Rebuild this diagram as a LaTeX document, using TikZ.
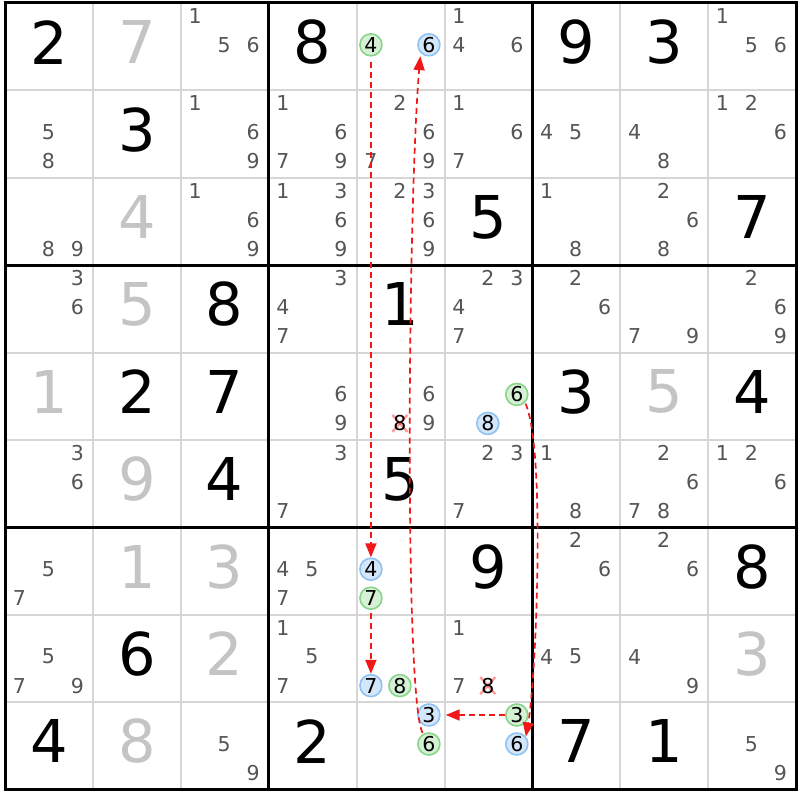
\documentclass[tikz,border=0pt]{standalone}
\usepackage{fontspec}
\setmainfont{DejaVu Sans}
\usetikzlibrary{arrows.meta}
\definecolor{candgray}{HTML}{555555}
\definecolor{solvedgray}{HTML}{C4C4C4}
\definecolor{gridgray}{HTML}{D6D6D6}
\definecolor{gborder}{HTML}{88D488}
\definecolor{gfill}{HTML}{D6F0D6}
\definecolor{bborder}{HTML}{8EC2F2}
\definecolor{bfill}{HTML}{D4E6F9}
\definecolor{arrred}{HTML}{F01818}
\newcommand\cx[2]{5+(#1-1)*87.9+14.3+mod(#2-1,3)*29}
\newcommand\cy[2]{3+(#1-1)*87.4+12.8+int((#2-1)/3)*29}
\newcommand\givenD[4][given]{\node[#1] (v#2#3) at ({5+(#3-0.5)*87.9},{3+(#2-0.5)*87.4-4.5}) {#4};}
\newcommand\cands[3]{\foreach \d in {#3} {\node[cand] (c#1#2-\d) at ({\cx{#2}{\d}},{\cy{#1}{\d}}) {\d};}}
\newcommand\circd[4]{\node[#4] (r#1c#2#4#3) at ({\cx{#2}{#3}},{\cy{#1}{#3}}) {#3};}
\newcommand\elimd[3]{%
  \coordinate (x#1#2) at ({\cx{#2}{#3}},{\cy{#1}{#3}});
  \draw[elimx] ([shift={(-7.5,-8.5)}]x#1#2) -- ([shift={(7.5,8.5)}]x#1#2);
  \draw[elimx] ([shift={(-7.5,8.5)}]x#1#2) -- ([shift={(7.5,-8.5)}]x#1#2);
  \node[cand,text=black] (e#1#2) at (x#1#2) {#3};}
\tikzset{
  given/.style={font=\fontsize{59}{59}\selectfont, text=black, inner sep=0pt},
  solved/.style={given, text=solvedgray},
  cand/.style={font=\fontsize{20.5}{20.5}\selectfont, text=candgray, inner sep=0pt},
  g/.style={circle, draw=gborder, fill=gfill, line width=1.6pt, minimum size=22pt, inner sep=0pt, font=\fontsize{20.5}{20.5}\selectfont, text=black},
  b/.style={g, draw=bborder, fill=bfill},
  elimx/.style={draw=red, opacity=0.4, line width=2.4pt},
  arr/.style={draw=arrred, line width=1.7pt, dash pattern=on 6pt off 4pt, -{Triangle[length=14pt,width=11pt]}},
}
\begin{document}
\begin{tikzpicture}[x=1pt,y=-1pt]
\useasboundingbox (0,0) rectangle (800,800);
\fill[white] (0,0) rectangle (800,800);
% thin grid
\foreach \k in {1,2,4,5,7,8} {
  \draw[gridgray, line width=2pt] ({5+\k*87.9},3) -- ({5+\k*87.9},789.6);
  \draw[gridgray, line width=2pt] (5,{3+\k*87.4}) -- (795.1,{3+\k*87.4});
}
% thick grid
\foreach \k in {0,3,6,9} {
  \draw[black, line width=3pt] ({5+\k*87.9},1.5) -- ({5+\k*87.9},791.1);
  \draw[black, line width=3pt] (3.5,{3+\k*87.4}) -- (796.6,{3+\k*87.4});
}
% givens
\givenD{1}{1}{2} \givenD{1}{4}{8} \givenD{1}{7}{9} \givenD{1}{8}{3}
\givenD{2}{2}{3}
\givenD{3}{6}{5} \givenD{3}{9}{7}
\givenD{4}{3}{8} \givenD{4}{5}{1}
\givenD{5}{2}{2} \givenD{5}{3}{7} \givenD{5}{7}{3} \givenD{5}{9}{4}
\givenD{6}{3}{4} \givenD{6}{5}{5}
\givenD{7}{6}{9} \givenD{7}{9}{8}
\givenD{8}{2}{6}
\givenD{9}{1}{4} \givenD{9}{4}{2} \givenD{9}{7}{7} \givenD{9}{8}{1}
% solved
\givenD[solved]{1}{2}{7} \givenD[solved]{3}{2}{4} \givenD[solved]{4}{2}{5}
\givenD[solved]{5}{1}{1} \givenD[solved]{5}{8}{5} \givenD[solved]{6}{2}{9}
\givenD[solved]{7}{2}{1} \givenD[solved]{7}{3}{3} \givenD[solved]{8}{3}{2}
\givenD[solved]{8}{9}{3} \givenD[solved]{9}{2}{8}
% candidates
\cands{1}{3}{1,5,6} \cands{1}{6}{1,4,6} \cands{1}{9}{1,5,6}
\cands{2}{1}{5,8} \cands{2}{3}{1,6,9} \cands{2}{4}{1,6,7,9} \cands{2}{5}{2,6,7,9}
\cands{2}{6}{1,6,7} \cands{2}{7}{4,5} \cands{2}{8}{4,8} \cands{2}{9}{1,2,6}
\cands{3}{1}{8,9} \cands{3}{3}{1,6,9} \cands{3}{4}{1,3,6,9} \cands{3}{5}{2,3,6,9}
\cands{3}{7}{1,8} \cands{3}{8}{2,6,8}
\cands{4}{1}{3,6} \cands{4}{4}{3,4,7} \cands{4}{6}{2,3,4,7} \cands{4}{7}{2,6}
\cands{4}{8}{7,9} \cands{4}{9}{2,6,9}
\cands{5}{4}{6,9} \cands{5}{5}{6,9}
\cands{6}{1}{3,6} \cands{6}{4}{3,7} \cands{6}{6}{2,3,7} \cands{6}{7}{1,8}
\cands{6}{8}{2,6,7,8} \cands{6}{9}{1,2,6}
\cands{7}{1}{5,7} \cands{7}{4}{4,5,7} \cands{7}{7}{2,6} \cands{7}{8}{2,6}
\cands{8}{1}{5,7,9} \cands{8}{4}{1,5,7} \cands{8}{6}{1,7} \cands{8}{7}{4,5} \cands{8}{8}{4,9}
\cands{9}{3}{5,9} \cands{9}{9}{5,9}
% eliminated
\elimd{5}{5}{8}
\elimd{8}{6}{8}
% circled
\circd{1}{5}{4}{g} \circd{1}{5}{6}{b}
\circd{5}{6}{6}{g} \circd{5}{6}{8}{b}
\circd{7}{5}{4}{b} \circd{7}{5}{7}{g}
\circd{8}{5}{7}{b} \circd{8}{5}{8}{g}
\circd{9}{5}{3}{b} \circd{9}{5}{6}{g}
\circd{9}{6}{3}{g} \circd{9}{6}{6}{b}
% chain
\draw[arr, shorten <=5pt] (r1c5g4) -- (r7c5b4);
\draw[arr, shorten <=3pt] (r7c5g7) -- (r8c5b7);
\draw[arr, shorten <=1pt, shorten >=3pt] (r9c5g6) .. controls (404,700) and (408,200) .. (r1c5b6.south west);
\draw[arr, shorten <=1pt] (r5c6g6.south east) .. controls (546,450) and (536,680) .. (r9c6b6.40);
\draw[arr, shorten >=5pt] (r9c6g3) -- (r9c5b3);
\end{tikzpicture}
\end{document}
